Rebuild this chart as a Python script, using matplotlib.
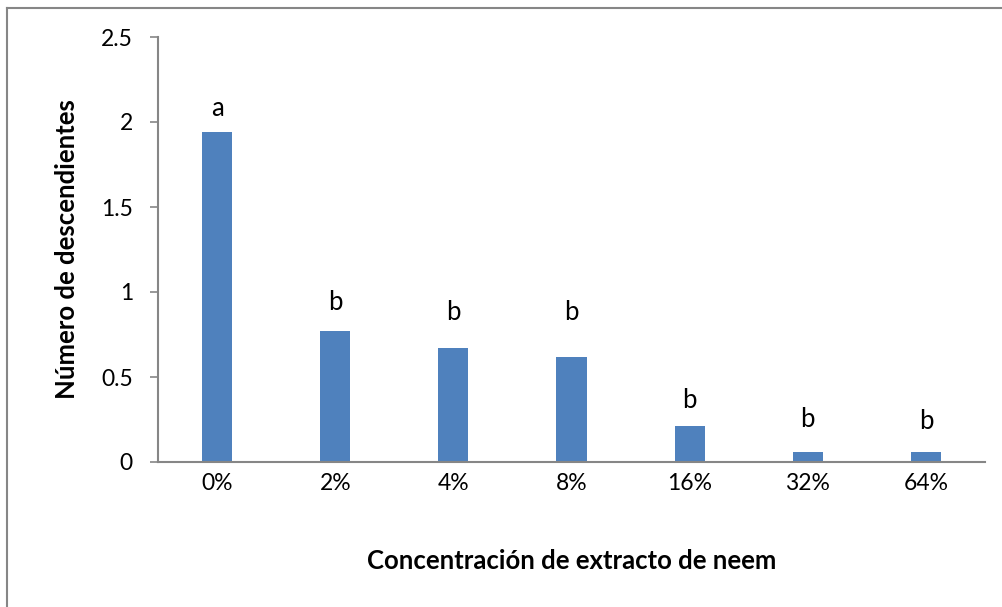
import matplotlib
matplotlib.use("Agg")
import matplotlib.pyplot as plt
from matplotlib.lines import Line2D

categories = ["0%", "2%", "4%", "8%", "16%", "32%", "64%"]
values = [1.94, 0.77, 0.67, 0.62, 0.21, 0.06, 0.06]
letters = ["a", "b", "b", "b", "b", "b", "b"]
letter_heights = [2.08, 0.94, 0.88, 0.88, 0.36, 0.25, 0.24]
yticks = [0, 0.5, 1, 1.5, 2, 2.5]
ytick_labels = ["0", "0.5", "1", "1.5", "2", "2.5"]

plt.rcParams['font.family'] = ['Lato', 'DejaVu Sans']

fig = plt.figure(figsize=(10.03, 6.07), dpi=100)
ax = fig.add_axes([158/1003, 1-462/607, (985-158)/1003, (462-37)/607])

x = list(range(len(categories)))
ax.bar(x, values, width=0.255, color="#4F81BD", zorder=2)
for xi, lt, h in zip(x, letters, letter_heights):
    ax.text(xi, h, lt, ha="center", va="center", fontsize=18.5, color="black")

ax.set_xlim(-0.5, len(categories) - 0.5)
ax.set_ylim(0, 2.5)
ax.set_yticks(yticks)
ax.set_yticklabels(ytick_labels, fontsize=16.5)
ax.set_xticks(x)
ax.set_xticklabels(categories, fontsize=16.5)
ax.tick_params(axis="x", length=0, pad=8)
ax.tick_params(axis="y", length=6, width=1.2, color="#868686", pad=12, direction="out")
for lbl in ax.get_yticklabels():
    lbl.set_va("center_baseline")

for s in ["top", "right"]:
    ax.spines[s].set_visible(False)
for s in ["left", "bottom"]:
    ax.spines[s].set_color("#868686")
    ax.spines[s].set_linewidth(1.5)

ax.set_ylabel("Número de descendientes", fontsize=18.5, fontweight="bold", labelpad=0)
ax.yaxis.set_label_coords(-0.095, 0.5)
ax.set_xlabel("Concentración de extracto de neem", fontsize=18.5, fontweight="bold")
ax.xaxis.set_label_coords(0.5, -0.205)

# outer chart border
fig.add_artist(Line2D([7/1003, 7/1003], [0, 1-8/607], transform=fig.transFigure, color="#868686", lw=1.5))
fig.add_artist(Line2D([7/1003, 1], [1-8/607, 1-8/607], transform=fig.transFigure, color="#868686", lw=1.5))

fig.savefig("out.png", dpi=100)
